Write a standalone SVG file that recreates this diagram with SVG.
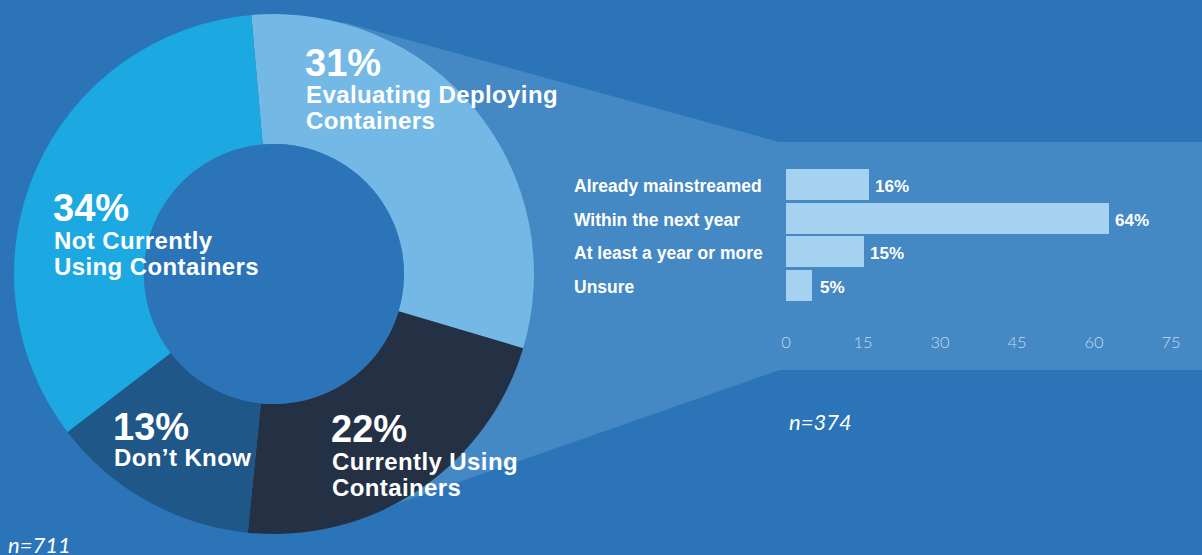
<svg xmlns="http://www.w3.org/2000/svg" width="1202" height="555" viewBox="0 0 1202 555">
  <style>
    .lbl { font-family: "Liberation Sans", Arial, sans-serif; font-weight: 700; fill: #FFFFFF; }
    .pct { font-size: 38px; }
    .cap { font-size: 24px; letter-spacing: 0.4px; }
    .bar { fill: #A6D2F1; }
    .blbl { font-family: "Liberation Sans", Arial, sans-serif; font-weight: 700; font-size: 17.5px; fill: #FFFFFF; }
    .bval { font-family: "Liberation Sans", Arial, sans-serif; font-weight: 700; font-size: 17px; fill: #FFFFFF; }
    .tick { font-family: "Lato", "Liberation Sans", sans-serif; font-weight: 300; font-size: 16.5px; fill: #C2DCF2; text-anchor: middle; }
    .note { font-family: "Lato", "Liberation Sans", sans-serif; font-weight: 400; font-style: italic; font-size: 22px; fill: #FFFFFF; }
  </style>

  <!-- background -->
  <rect x="0" y="0" width="1202" height="555" fill="#2A74B7"/>

  <!-- callout panel fanning out of the evaluating slice -->
  <g id="callout-panel">
    <polygon points="343,22 779,142 1202,142 1202,370 780,370 359,517 274,274" fill="#4488C4"/>
  </g>

  <!-- donut chart, centre (274,274), radii 260 / 130 -->
  <g id="donut">
    <g id="slice-evaluating">
      <path d="M251.34,14.99 A260,260 0 0 1 523.16,348.28 L398.58,311.14 A130,130 0 0 0 262.67,144.50 Z" fill="#74B9E5"/>
    </g>
    <g id="slice-currently-using">
      <path d="M523.16,348.28 A260,260 0 0 1 247.72,532.67 L260.86,403.33 A130,130 0 0 0 398.58,311.14 Z" fill="#243145"/>
    </g>
    <g id="slice-dont-know">
      <path d="M247.72,532.67 A260,260 0 0 1 67.45,431.92 L170.73,352.96 A130,130 0 0 0 260.86,403.33 Z" fill="#1F5788"/>
    </g>
    <g id="slice-not-using">
      <path d="M67.45,431.92 A260,260 0 0 1 251.34,14.99 L262.67,144.50 A130,130 0 0 0 170.73,352.96 Z" fill="#1CA8E1"/>
    </g>
    <circle cx="274" cy="274" r="130" fill="#2A74B7"/>
  </g>

  <!-- donut labels -->
  <g id="label-evaluating" class="lbl">
    <text class="pct" x="305" y="76">31%</text>
    <text class="cap" x="306" y="103">Evaluating Deploying</text>
    <text class="cap" x="306" y="129">Containers</text>
  </g>
  <g id="label-not-using" class="lbl">
    <text class="pct" x="53" y="221">34%</text>
    <text class="cap" x="54" y="249">Not Currently</text>
    <text class="cap" x="54" y="275">Using Containers</text>
  </g>
  <g id="label-dont-know" class="lbl">
    <text class="pct" x="113" y="440">13%</text>
    <text class="cap" x="114" y="466">Don’t Know</text>
  </g>
  <g id="label-currently-using" class="lbl">
    <text class="pct" x="331" y="442">22%</text>
    <text class="cap" x="332" y="470">Currently Using</text>
    <text class="cap" x="332" y="496">Containers</text>
  </g>

  <!-- bar chart: 0 at x=786, 5.13 px per unit -->
  <g id="bar-chart">
    <g id="row-mainstreamed">
      <text class="blbl" x="574" y="192">Already mainstreamed</text>
      <rect class="bar" x="786" y="169" width="83" height="31"/>
      <text class="bval" x="875" y="192">16%</text>
    </g>
    <g id="row-next-year">
      <text class="blbl" x="574" y="226">Within the next year</text>
      <rect class="bar" x="786" y="203" width="323" height="31"/>
      <text class="bval" x="1115" y="226">64%</text>
    </g>
    <g id="row-year-or-more">
      <text class="blbl" x="574" y="259">At least a year or more</text>
      <rect class="bar" x="786" y="236" width="78" height="31"/>
      <text class="bval" x="870" y="259">15%</text>
    </g>
    <g id="row-unsure">
      <text class="blbl" x="574" y="293">Unsure</text>
      <rect class="bar" x="786" y="270" width="26" height="31"/>
      <text class="bval" x="820" y="293">5%</text>
    </g>
    <g id="axis">
      <text class="tick" x="786" y="348">0</text>
      <text class="tick" x="863" y="348">15</text>
      <text class="tick" x="940" y="348">30</text>
      <text class="tick" x="1017" y="348">45</text>
      <text class="tick" x="1094" y="348">60</text>
      <text class="tick" x="1171" y="348">75</text>
    </g>
  </g>

  <!-- sample sizes -->
  <text id="n-bars" class="note" x="789" y="430">n=374</text>
  <text id="n-donut" class="note" x="8" y="553">n=711</text>
</svg>
